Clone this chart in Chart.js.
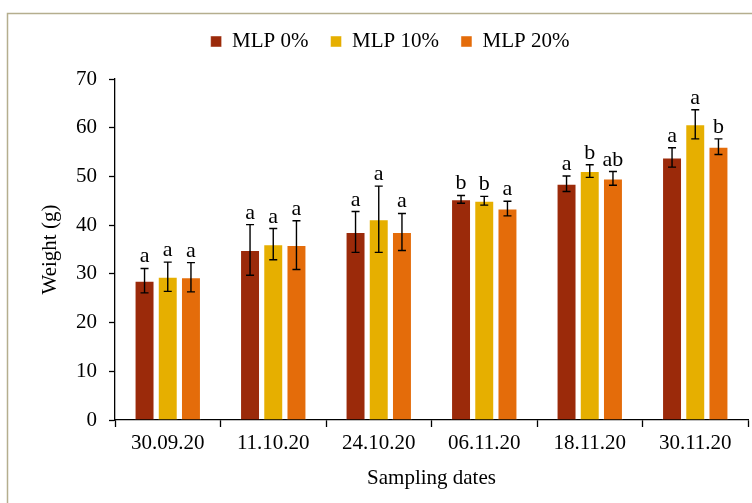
<!DOCTYPE html>
<html><head><meta charset="utf-8">
<script src="https://cdn.jsdelivr.net/npm/chart.js@4.4.1/dist/chart.umd.min.js"></script>
<style>html,body{margin:0;padding:0;background:#fff;}#wrap{width:752px;height:503px;position:relative;}</style>
</head><body><div id="wrap"><canvas id="c" width="752" height="503"></canvas></div>
<script>
const categories = ['30.09.20','11.10.20','24.10.20','06.11.20','18.11.20','30.11.20'];
const seriesNames = ['MLP 0%','MLP 10%','MLP 20%'];
const mlp0  = [28.6, 34.9, 38.6, 45.3, 48.5, 53.9];
const mlp10 = [29.4, 36.1, 41.2, 45.0, 51.1, 60.7];
const mlp20 = [29.3, 35.9, 38.6, 43.4, 49.6, 56.1];
const err0  = [2.5, 5.2, 4.2, 0.8, 1.6, 2.0];
const err10 = [3.0, 3.2, 6.8, 0.9, 1.3, 3.0];
const err20 = [3.0, 5.0, 3.8, 1.5, 1.4, 1.6];
const letters0  = ['a','a','a','b','a','a'];
const letters10 = ['a','a','a','b','b','a'];
const letters20 = ['a','a','a','a','ab','b'];
const yTicks = [0,10,20,30,40,50,60,70];

const colors = ['#9B2A0A','#E6AF00','#E46C0A'];
const FONT = "'Liberation Serif', 'Times New Roman', serif";

const errs = [err0, err10, err20];
const letters = [letters0, letters10, letters20];

const framePlugin = {
  id: 'frame',
  beforeLayout(chart) {
    const lg = chart.legend;
    if (lg && !lg._patched) {
      const fit = lg.fit;
      lg.fit = function() { fit.call(this); this.height += 17; };
      const draw = lg.draw;
      lg.draw = function() {
        const c = this.ctx; c.save(); c.translate(16, 0); draw.call(this); c.restore();
      };
      lg._patched = true;
    }
  },
  beforeDraw(chart) {
    const ctx = chart.ctx;
    ctx.save();
    ctx.fillStyle = '#fff';
    ctx.fillRect(0,0,chart.width,chart.height);
    ctx.strokeStyle = '#B5AE8E';
    ctx.lineWidth = 1.5;
    ctx.strokeRect(7.5, 13.5, 900, 700);
    ctx.restore();
  }
};

const errPlugin = {
  id: 'errbars',
  afterDatasetsDraw(chart) {
    const ctx = chart.ctx;
    const y = chart.scales.y;
    ctx.save();
    chart.data.datasets.forEach((ds, di) => {
      const meta = chart.getDatasetMeta(di);
      meta.data.forEach((bar, i) => {
        const v = ds.data[i], e = errs[di][i];
        const x = bar.x;
        const yt = y.getPixelForValue(v + e);
        const yb = y.getPixelForValue(v - e);
        ctx.strokeStyle = '#000';
        ctx.lineWidth = 1.4;
        ctx.beginPath();
        ctx.moveTo(x, yt); ctx.lineTo(x, yb);
        ctx.moveTo(x-4, yt); ctx.lineTo(x+4, yt);
        ctx.moveTo(x-4, yb); ctx.lineTo(x+4, yb);
        ctx.stroke();
        ctx.fillStyle = '#000';
        ctx.font = '22px ' + FONT;
        ctx.textAlign = 'center';
        ctx.textBaseline = 'alphabetic';
        ctx.fillText(letters[di][i], x, yt - 6);
      });
    });
    ctx.restore();
  }
};

new Chart(document.getElementById('c'), {
  type: 'bar',
  data: {
    labels: categories,
    datasets: [
      {label: seriesNames[0], data: mlp0, backgroundColor: colors[0]},
      {label: seriesNames[1], data: mlp10, backgroundColor: colors[1]},
      {label: seriesNames[2], data: mlp20, backgroundColor: colors[2]}
    ].map(d => Object.assign(d, {borderColor: 'rgba(255,255,255,0.45)', borderWidth: 1, categoryPercentage: 0.66, barPercentage: 0.86}))
  },
  options: {
    responsive: false,
    animation: false,
    devicePixelRatio: 1,
    layout: {padding: {left: 0, right: 4, top: 9, bottom: 0}},
    plugins: {
      legend: {
        position: 'top',
        labels: {font: {family: FONT, size: 21}, color: '#000', boxWidth: 11, boxHeight: 11, padding: 22, useBorderRadius: false}
      },
      tooltip: {enabled: false}
    },
    scales: {
      x: {
        grid: {display: true, drawOnChartArea: false, offset: true, color: '#000', tickLength: 7, tickWidth: 1.3},
        border: {color: '#000', width: 1.3},
        ticks: {font: {family: FONT, size: 21}, color: '#000', padding: 4, maxRotation: 0},
        title: {display: true, text: 'Sampling dates', font: {family: FONT, size: 21}, color: '#000', padding: {top: 0, bottom: 12}},
        afterFit(s) { s.height = 83; }
      },
      y: {
        min: 0, max: 70,
        afterBuildTicks(s) { s.ticks = yTicks.map(v => ({value: v})); },
        grid: {display: true, drawOnChartArea: false, color: '#000', tickLength: 6, tickWidth: 1.3},
        border: {color: '#000', width: 1.3},
        ticks: {font: {family: FONT, size: 21}, color: '#000', padding: 12},
        title: {display: true, text: 'Weight (g)', font: {family: FONT, size: 21}, color: '#000', padding: {top: 38, bottom: 0}},
        afterFit(s) { s.width = 115; }
      }
    }
  },
  plugins: [framePlugin, errPlugin]
});
</script></body></html>
